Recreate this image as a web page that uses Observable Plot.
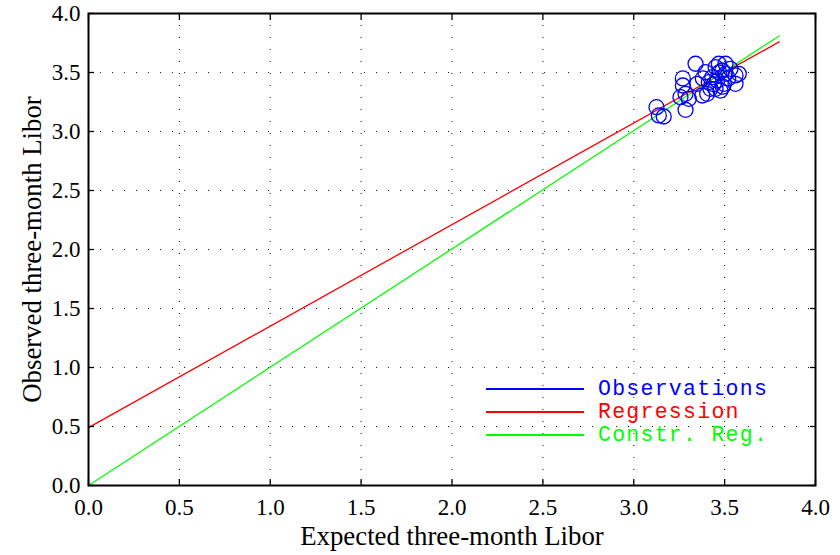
<!DOCTYPE html>
<html>
<head>
<meta charset="utf-8">
<script src="https://cdn.jsdelivr.net/npm/d3@7"></script>
<script src="https://cdn.jsdelivr.net/npm/@observablehq/plot@0.6"></script>
<style>
  html, body { margin: 0; padding: 0; background: #fff; }
  #wrap { position: relative; width: 840px; height: 555px; }
  .leg { position: absolute; left: 486px; font-family: "Liberation Mono", monospace; font-size: 21.5px; letter-spacing: 1.27px; line-height: 0.9; }
  .leg .ln { position: absolute; left: 0; width: 98px; height: 1.5px; top: -1px; }
  .leg .tx { position: absolute; left: 112px; top: -9px; white-space: nowrap; }
</style>
</head>
<body>
<div id="wrap"></div>
<script>
// Observations (expected vs observed three-month Libor)
const obsExpected = [3.340, 3.125, 3.138, 3.165, 3.285, 3.270, 3.257, 3.285, 3.303, 3.377,
                     3.349, 3.395, 3.413, 3.432, 3.450, 3.468, 3.487, 3.505, 3.532, 3.560,
                     3.578, 3.560, 3.450, 3.404, 3.477, 3.459, 3.496, 3.422, 3.505, 3.270,
                     3.470, 3.440, 3.520, 3.380, 3.490];
const obsObserved = [3.574, 3.206, 3.136, 3.127, 3.184, 3.450, 3.291, 3.319, 3.277, 3.305,
                     3.404, 3.503, 3.418, 3.460, 3.545, 3.574, 3.517, 3.489, 3.531, 3.475,
                     3.489, 3.404, 3.362, 3.319, 3.347, 3.432, 3.404, 3.362, 3.574, 3.390,
                     3.500, 3.400, 3.450, 3.450, 3.380];
// Fitted lines (endpoints)
const lineX = [0, 3.8];
const regressionY = [0.49, 3.76];
const constrainedY = [0, 3.81];
// Ticks
const tickValues = [0, 0.5, 1, 1.5, 2, 2.5, 3, 3.5, 4];
// Legend
const legendLabels = ["Observations", "Regression", "Constr. Reg."];
const legendColors = ["#0000ff", "#ff0000", "#00ff00"];

const obs = obsExpected.map((x, i) => ({x, y: obsObserved[i]}));
const reg = lineX.map((x, i) => ({x, y: regressionY[i]}));
const con = lineX.map((x, i) => ({x, y: constrainedY[i]}));
const fmt = d3.format(".1f");
const blank = () => "";

const chart = Plot.plot({
  width: 840,
  height: 555,
  marginLeft: 88,
  marginRight: 25,
  marginTop: 13,
  marginBottom: 70,
  style: {fontFamily: "'Liberation Serif', 'Times New Roman', serif", fontSize: "23px", color: "#000", background: "#fff"},
  x: {domain: [0, 4], ticks: tickValues},
  y: {domain: [0, 4], ticks: tickValues},
  marks: [
    Plot.gridX(tickValues, {stroke: "#000", strokeOpacity: 0.9, strokeDasharray: "1,11", strokeWidth: 1}),
    Plot.gridY(tickValues, {stroke: "#000", strokeOpacity: 0.9, strokeDasharray: "1,11", strokeWidth: 1}),
    Plot.line(reg, {x: "x", y: "y", stroke: legendColors[1], strokeWidth: 1.3}),
    Plot.line(con, {x: "x", y: "y", stroke: legendColors[2], strokeWidth: 1.3}),
    Plot.dot(obs, {x: "x", y: "y", r: 7.5, stroke: legendColors[0], strokeWidth: 1.3}),
    // tick labels
    Plot.axisX(tickValues, {anchor: "bottom", tickSize: 0, tickPadding: 13, tickFormat: fmt, label: null, fontSize: 23}),
    Plot.axisY(tickValues, {anchor: "left", tickSize: 0, tickPadding: 8, tickFormat: fmt, label: null, fontSize: 23}),
    // axis titles
    Plot.axisX(tickValues, {anchor: "bottom", tickSize: 0, tickFormat: blank,
      label: "Expected three-month Libor", labelAnchor: "center", labelOffset: 59, labelArrow: "none", fontSize: 26.8}),
    Plot.axisY(tickValues, {anchor: "left", tickSize: 0, tickFormat: blank,
      label: "Observed three-month Libor", labelAnchor: "center", labelOffset: 67, labelArrow: "none", fontSize: 26.8}),
    // inward ticks on all four sides
    Plot.axisX(tickValues, {anchor: "bottom", tickSize: -6, tickFormat: blank, label: null, strokeWidth: 1.3}),
    Plot.axisX(tickValues, {anchor: "top", tickSize: -6, tickFormat: blank, label: null, strokeWidth: 1.3}),
    Plot.axisY(tickValues, {anchor: "left", tickSize: -6, tickFormat: blank, label: null, strokeWidth: 1.3}),
    Plot.axisY(tickValues, {anchor: "right", tickSize: -6, tickFormat: blank, label: null, strokeWidth: 1.3}),
    Plot.frame({stroke: "#000", strokeWidth: 2})
  ]
});

const wrap = document.getElementById("wrap");
wrap.appendChild(chart);
const legendTops = [389, 412, 435];
legendLabels.forEach((lab, i) => {
  const d = document.createElement("div");
  d.className = "leg";
  d.style.top = legendTops[i] + "px";
  d.style.color = legendColors[i];
  d.innerHTML = `<div class="ln" style="background:${legendColors[i]}"></div><div class="tx">${lab}</div>`;
  wrap.appendChild(d);
});
</script>
</body>
</html>
